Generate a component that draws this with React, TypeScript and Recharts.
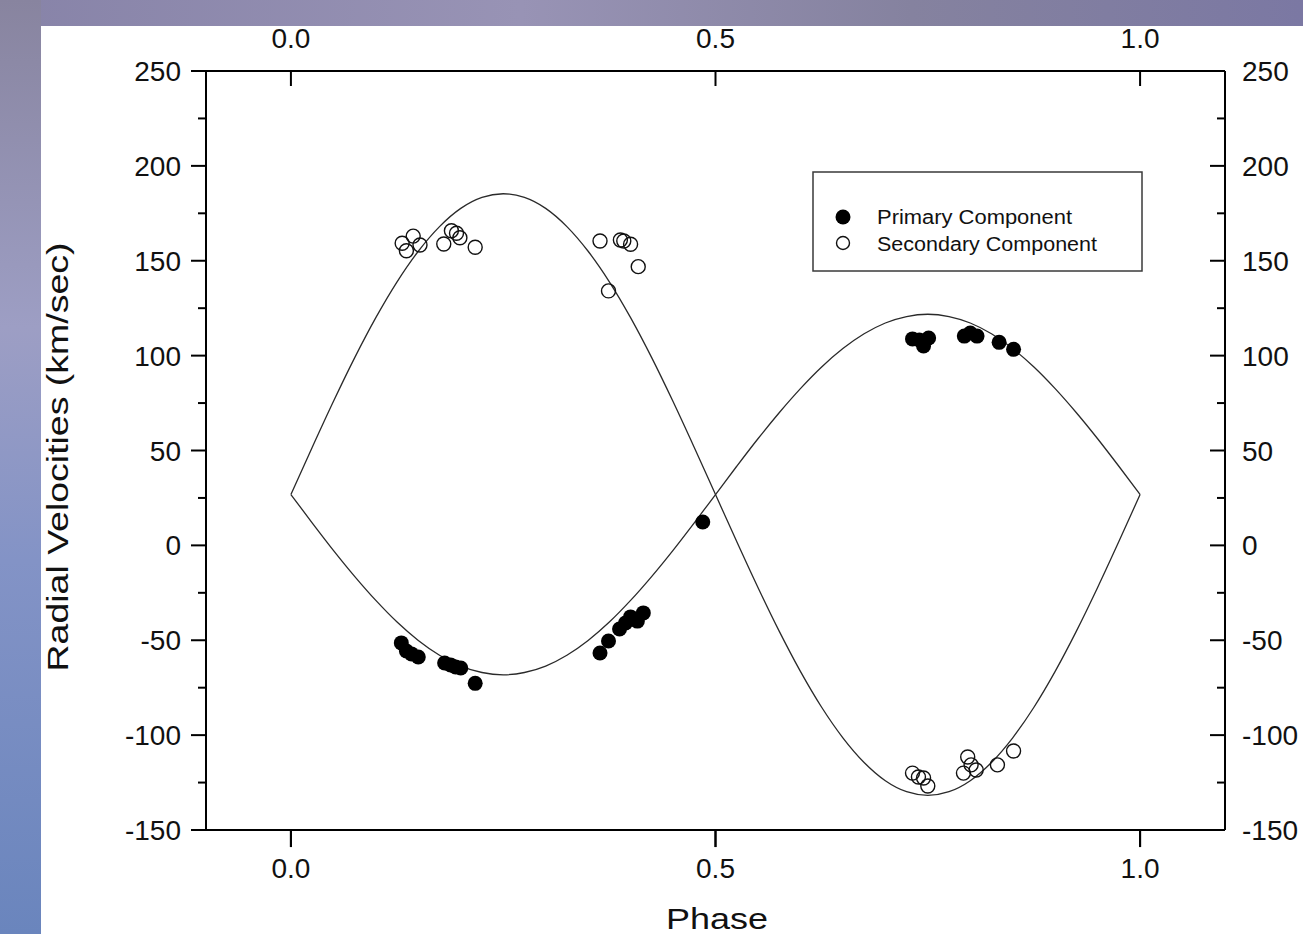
import React from "react";
import { ComposedChart, Line, Scatter, XAxis, YAxis, ReferenceLine } from "recharts";

const FONT = '"Liberation Sans", Arial, Helvetica, sans-serif';

// axis ticks
const phaseTicks = [0, 0.5, 1];
const velocityTicks = [-150, -125, -100, -75, -50, -25, 0, 25, 50, 75, 100, 125, 150, 175, 200, 225, 250];

// fitted curves
const curvePhase = [
  0, 0.025, 0.05, 0.075, 0.1, 0.125, 0.15, 0.175, 0.2, 0.225, 0.25, 0.275, 0.3, 0.325, 0.35, 0.375, 0.4, 0.425, 0.45,
  0.475, 0.5, 0.525, 0.55, 0.575, 0.6, 0.625, 0.65, 0.675, 0.7, 0.725, 0.75, 0.775, 0.8, 0.825, 0.85, 0.875, 0.9,
  0.925, 0.95, 0.975, 1,
];
const primaryCurve = [
  26.8, 11.9, -2.6, -16.3, -29.0, -40.4, -50.1, -57.9, -63.6, -67.0, -68.2, -67.0, -63.6, -57.9, -50.1, -40.4, -29.0,
  -16.3, -2.6, 11.9, 26.8, 41.7, 56.2, 69.9, 82.6, 94.0, 103.7, 111.5, 117.2, 120.6, 121.8, 120.6, 117.2, 111.5, 103.7,
  94.0, 82.6, 69.9, 56.2, 41.7, 26.8,
];
const secondaryCurve = [
  26.8, 51.6, 75.8, 98.8, 120.0, 138.9, 155.0, 168.0, 177.6, 183.4, 185.3, 183.4, 177.6, 168.0, 155.0, 138.9, 120.0,
  98.8, 75.8, 51.6, 26.8, 2.0, -22.2, -45.2, -66.4, -85.3, -101.4, -114.4, -124.0, -129.8, -131.7, -129.8, -124.0,
  -114.4, -101.4, -85.3, -66.4, -45.2, -22.2, 2.0, 26.8,
];

// observations
const primaryPhase = [
  0.130, 0.136, 0.142, 0.150, 0.181, 0.188, 0.194, 0.200, 0.217, 0.364, 0.374, 0.387, 0.394, 0.400, 0.408, 0.415, 0.485,
  0.732, 0.740, 0.751, 0.745, 0.793, 0.800, 0.808, 0.834, 0.851,
];
const primaryVel = [
  -51.4, -55.7, -57.2, -58.8, -62.0, -63.0, -64.1, -64.6, -72.7, -56.7, -50.4, -44.1, -40.9, -37.7, -39.9, -35.6, 12.3,
  108.8, 108.2, 109.3, 105.1, 110.3, 111.9, 110.3, 107.0, 103.3,
];
const secondaryPhase = [
  0.131, 0.136, 0.144, 0.152, 0.180, 0.189, 0.195, 0.199, 0.217, 0.364, 0.388, 0.392, 0.400, 0.409, 0.374, 0.732,
  0.739, 0.745, 0.750, 0.797, 0.792, 0.801, 0.807, 0.832, 0.851,
];
const secondaryVel = [
  159.2, 155.3, 163.0, 158.3, 158.8, 165.8, 164.5, 162.1, 157.1, 160.4, 160.9, 160.4, 158.7, 146.9, 134.1, -120.0,
  -122.1, -122.6, -126.8, -111.5, -120.0, -115.7, -118.4, -115.7, -108.4,
];

const primaryLine = curvePhase.map((p, i) => ({ phase: p, v: primaryCurve[i] }));
const secondaryLine = curvePhase.map((p, i) => ({ phase: p, v: secondaryCurve[i] }));
const primaryPts = primaryPhase.map((p, i) => ({ phase: p, v: primaryVel[i] }));
const secondaryPts = secondaryPhase.map((p, i) => ({ phase: p, v: secondaryVel[i] }));

const tickText = { fontSize: 28, fontFamily: FONT, fill: "#111" };

// y is the axis line; tick points down, out of the plot
const BottomTick = ({ x, y, payload }: any) => (
  <g>
    <line x1={x} y1={y} x2={x} y2={y + 17} stroke="#000" strokeWidth={2} />
    <text x={x} y={y + 48} textAnchor="middle" {...tickText}>
      {Number(payload.value).toFixed(1)}
    </text>
  </g>
);

// y is the axis line; tick points down into the plot
const TopTick = ({ x, y, payload }: any) => (
  <g>
    <line x1={x} y1={y} x2={x} y2={y + 15} stroke="#000" strokeWidth={2} />
    <text x={x} y={y - 23} textAnchor="middle" {...tickText}>
      {Number(payload.value).toFixed(1)}
    </text>
  </g>
);

const LeftTick = ({ x, y, payload }: any) => {
  const major = payload.value % 50 === 0;
  return (
    <g>
      <line x1={x} y1={y} x2={x - (major ? 15 : 8)} y2={y} stroke="#000" strokeWidth={2} />
      {major && (
        <text x={x - 25} y={y + 10} textAnchor="end" {...tickText}>
          {payload.value}
        </text>
      )}
    </g>
  );
};

const RightTick = ({ x, y, payload }: any) => {
  const major = payload.value % 50 === 0;
  return (
    <g>
      <line x1={x} y1={y} x2={x - (major ? 15 : 8)} y2={y} stroke="#000" strokeWidth={2} />
      {major && (
        <text x={x + 17} y={y + 10} textAnchor="start" {...tickText}>
          {payload.value}
        </text>
      )}
    </g>
  );
};

const YTitle = () => (
  <text
    x={68}
    y={457}
    transform="rotate(-90, 68, 457)"
    textAnchor="middle"
    fontSize={30}
    fontFamily={FONT}
    fill="#111"
    textLength={429}
    lengthAdjust="spacingAndGlyphs"
  >
    Radial Velocities (km/sec)
  </text>
);

const XTitle = () => (
  <text
    x={717}
    y={929}
    textAnchor="middle"
    fontSize={30}
    fontFamily={FONT}
    fill="#111"
    textLength={102}
    lengthAdjust="spacingAndGlyphs"
  >
    Phase
  </text>
);

const FilledDot = (p: any) => <circle cx={p.cx} cy={p.cy} r={7.5} fill="#000" />;
const OpenDot = (p: any) => <circle cx={p.cx} cy={p.cy} r={7} fill="none" stroke="#111" strokeWidth={1.4} />;

const LegendBox = () => (
  <svg width={331} height={101} style={{ position: "absolute", left: 812, top: 171 }}>
    <rect x={1} y={1} width={329} height={99} fill="#fff" stroke="#3a3a3a" strokeWidth={1.5} />
    <circle cx={31} cy={46} r={7.5} fill="#000" />
    <circle cx={31} cy={72} r={6.5} fill="none" stroke="#111" strokeWidth={1.4} />
    <text x={65} y={53} fontSize={19.5} fontFamily={FONT} fill="#111" textLength={195} lengthAdjust="spacingAndGlyphs">
      Primary Component
    </text>
    <text x={65} y={80} fontSize={19.5} fontFamily={FONT} fill="#111" textLength={220} lengthAdjust="spacingAndGlyphs">
      Secondary Component
    </text>
  </svg>
);

export default function App() {
  const axisLine = { stroke: "#000", strokeWidth: 2 };
  return (
    <div
      style={{
        position: "absolute",
        left: 0,
        top: 0,
        width: 1303,
        height: 934,
        overflow: "hidden",
        background: "linear-gradient(90deg, #8783a8 0%, #9893b5 40%, #85829f 70%, #7b78a3 100%)",
      }}
    >
      <div
        style={{
          position: "absolute",
          left: 0,
          top: 0,
          width: 41,
          height: 934,
          background: "linear-gradient(180deg, #88849f 0%, #9d9ec4 35%, #8393c6 60%, #6a85bd 100%)",
        }}
      />
      <div style={{ position: "absolute", left: 41, top: 26, width: 1262, height: 908, background: "#fff" }} />
      <div style={{ position: "absolute", left: 0, top: 0, zIndex: 1 }}>
        <ComposedChart width={1303} height={934} margin={{ top: 0, right: 0, bottom: 0, left: 0 }}>
          <XAxis
            xAxisId="b"
            type="number"
            dataKey="phase"
            domain={[-0.1, 1.1]}
            ticks={phaseTicks}
            interval={0}
            height={104}
            tickSize={0}
            tickMargin={0}
            tickLine={false}
            axisLine={axisLine}
            tick={<BottomTick />}
            label={<XTitle />}
          />
          <XAxis
            xAxisId="t"
            orientation="top"
            type="number"
            dataKey="phase"
            domain={[-0.1, 1.1]}
            ticks={phaseTicks}
            interval={0}
            height={71}
            tickSize={0}
            tickMargin={0}
            tickLine={false}
            axisLine={axisLine}
            tick={<TopTick />}
          />
          <YAxis
            yAxisId="l"
            type="number"
            domain={[-150, 250]}
            ticks={velocityTicks}
            interval={0}
            width={206}
            tickSize={0}
            tickMargin={0}
            tickLine={false}
            axisLine={axisLine}
            tick={<LeftTick />}
            label={<YTitle />}
          />
          <YAxis
            yAxisId="r"
            orientation="right"
            type="number"
            domain={[-150, 250]}
            ticks={velocityTicks}
            interval={0}
            width={78}
            tickSize={0}
            tickMargin={0}
            tickLine={false}
            axisLine={axisLine}
            tick={<RightTick />}
          />
          {/* outward tick marks under the bottom axis */}
          {phaseTicks.map((t) => (
            <ReferenceLine
              key={t}
              xAxisId="b"
              yAxisId="l"
              ifOverflow="visible"
              segment={[
                { x: t, y: -150 },
                { x: t, y: -159 },
              ]}
              stroke="#000"
              strokeWidth={2}
            />
          ))}
          {/* invisible twin so the top and right axes get their ticks */}
          <Line
            xAxisId="t"
            yAxisId="r"
            data={primaryLine}
            dataKey="v"
            stroke="none"
            dot={false}
            activeDot={false}
            isAnimationActive={false}
            legendType="none"
          />
          <Line
            xAxisId="b"
            yAxisId="l"
            data={primaryLine}
            dataKey="v"
            type="monotone"
            stroke="#2a2a2a"
            strokeWidth={1.3}
            dot={false}
            activeDot={false}
            isAnimationActive={false}
            legendType="none"
          />
          <Line
            xAxisId="b"
            yAxisId="l"
            data={secondaryLine}
            dataKey="v"
            type="monotone"
            stroke="#2a2a2a"
            strokeWidth={1.3}
            dot={false}
            activeDot={false}
            isAnimationActive={false}
            legendType="none"
          />
          <Scatter
            xAxisId="b"
            yAxisId="l"
            name="Primary Component"
            data={primaryPts}
            dataKey="v"
            shape={FilledDot}
            isAnimationActive={false}
          />
          <Scatter
            xAxisId="b"
            yAxisId="l"
            name="Secondary Component"
            data={secondaryPts}
            dataKey="v"
            shape={OpenDot}
            isAnimationActive={false}
          />
        </ComposedChart>
      </div>
      <div style={{ position: "absolute", left: 0, top: 0, zIndex: 2 }}>
        <LegendBox />
      </div>
    </div>
  );
}
